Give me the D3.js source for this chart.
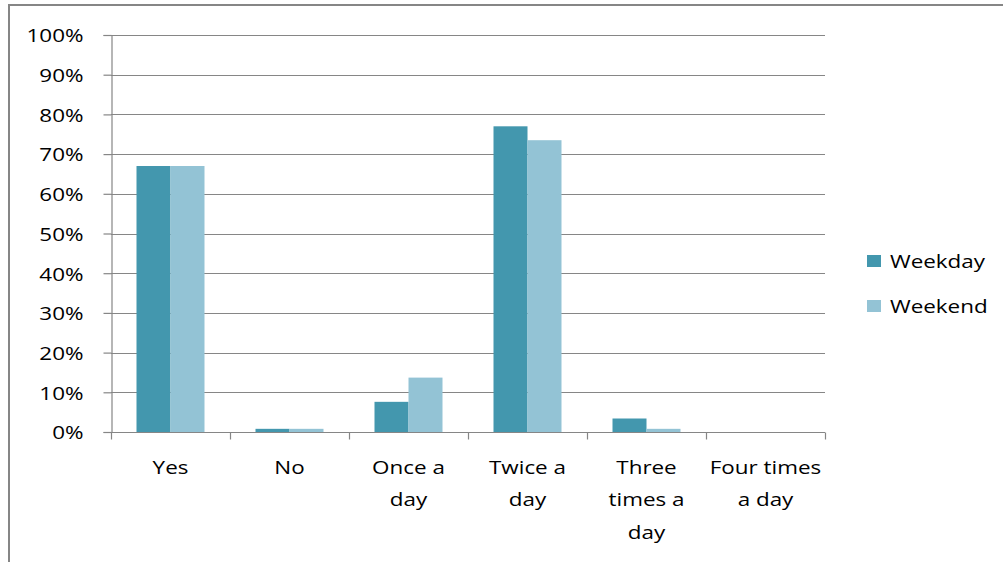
<!DOCTYPE html>
<html lang="en">
<head>
<meta charset="UTF-8">
<title>Weekday vs weekend</title>
<script src="https://d3js.org/d3.v7.min.js"></script>
<style>
  body { margin: 0; background: #fff; }
  text { font-family: "Open Sans", "Liberation Sans", sans-serif; fill: #000; }
</style>
</head>
<body>
<svg id="chart"></svg>
<script>
// data
const categories = [["Yes"], ["No"], ["Once a", "day"], ["Twice a", "day"], ["Three", "times a", "day"], ["Four times", "a day"]];
const series = ["Weekday", "Weekend"];
const weekday = [0.67, 0.008, 0.076, 0.77, 0.034, 0];
const weekend = [0.67, 0.008, 0.137, 0.735, 0.008, 0];
const yTicks = [0, 0.1, 0.2, 0.3, 0.4, 0.5, 0.6, 0.7, 0.8, 0.9, 1];
const colors = ["#4397ae", "#93c3d5"];

const width = 1003, height = 562;
const plotLeft = 111, plotRight = 825, plotTop = 35, plotBottom = 432;
const gridColor = "#868686";
const fontSize = "19px";
const sx = 1.18; // text is a bit stretched in the original

const svg = d3.select("#chart").attr("width", width).attr("height", height);

// outer frame
svg.append("rect")
  .attr("x", 9).attr("y", 5)
  .attr("width", 1100).attr("height", 700)
  .attr("fill", "none").attr("stroke", gridColor).attr("stroke-width", 2);

const keys = categories.map((c, i) => i);
const x0 = d3.scaleBand().domain(keys).range([plotLeft, plotRight]).padding(0);
const x1 = d3.scaleBand().domain(series).range([0, x0.bandwidth()]).paddingInner(0).paddingOuter(0.75);
const y = d3.scaleLinear().domain([0, 1]).range([plotBottom, plotTop]);

// gridlines
svg.append("g")
  .selectAll("line")
  .data(yTicks.slice(1))
  .join("line")
    .attr("x1", plotLeft).attr("x2", plotRight)
    .attr("y1", d => Math.round(y(d)) + 0.5).attr("y2", d => Math.round(y(d)) + 0.5)
    .attr("stroke", gridColor).attr("stroke-width", 1.2);

// bars
const rows = keys.map(i => ({ i, vals: [weekday[i], weekend[i]] }));
svg.append("g")
  .selectAll("g")
  .data(rows)
  .join("g")
    .attr("transform", d => `translate(${x0(d.i)},0)`)
  .selectAll("rect")
  .data(d => d.vals.map((v, j) => ({ s: series[j], v, j })))
  .join("rect")
    .attr("x", d => x1(d.s))
    .attr("y", d => y(d.v))
    .attr("width", x1.bandwidth())
    .attr("height", d => y(0) - y(d.v))
    .attr("fill", d => colors[d.j]);

// y axis
const yAxis = svg.append("g")
  .attr("transform", `translate(${plotLeft + 0.5},0)`)
  .call(d3.axisLeft(y).tickValues(yTicks).tickFormat(d3.format(".0%")).tickSize(8).tickPadding(0));
yAxis.select(".domain").attr("stroke", gridColor).attr("stroke-width", 1.2);
yAxis.selectAll(".tick line").attr("stroke", gridColor).attr("stroke-width", 1.2);
yAxis.selectAll(".tick text").remove();
yAxis.selectAll(".tick").append("text")
  .attr("transform", `translate(-28,0) scale(${sx},1)`)
  .attr("dy", "0.36em")
  .attr("text-anchor", "end")
  .style("font-size", fontSize)
  .text(d => d3.format(".0%")(d));

// x axis
const xAxis = svg.append("g").attr("transform", `translate(0,${plotBottom + 0.5})`);
xAxis.append("line")
  .attr("x1", plotLeft).attr("x2", plotRight)
  .attr("stroke", gridColor).attr("stroke-width", 1.2);
xAxis.selectAll(".xt")
  .data(keys.concat([keys.length]))
  .join("line")
    .attr("class", "xt")
    .attr("x1", d => (d < keys.length ? x0(d) : plotRight) + 0.5)
    .attr("x2", d => (d < keys.length ? x0(d) : plotRight) + 0.5)
    .attr("y1", 0).attr("y2", 7)
    .attr("stroke", gridColor).attr("stroke-width", 1.2);

const labels = svg.append("g");
labels.selectAll("text")
  .data(keys)
  .join("text")
    .attr("transform", d => `translate(${x0(d) + x0.bandwidth() / 2},474) scale(${sx},1)`)
    .attr("text-anchor", "middle")
    .style("font-size", fontSize)
  .selectAll("tspan")
  .data(d => categories[d])
  .join("tspan")
    .attr("x", 0)
    .attr("y", (d, i) => i * 32.5)
    .text(d => d);

// legend
const legend = svg.append("g")
  .selectAll("g")
  .data(series)
  .join("g")
    .attr("transform", (d, i) => `translate(867,${261 + i * 45})`);
legend.append("rect")
  .attr("x", 0).attr("y", -6)
  .attr("width", 14).attr("height", 12)
  .attr("fill", (d, i) => colors[i]);
legend.append("text")
  .attr("transform", `translate(23,0) scale(${sx},1)`)
  .attr("dy", "0.36em")
  .style("font-size", fontSize)
  .text(d => d);
</script>
</body>
</html>
